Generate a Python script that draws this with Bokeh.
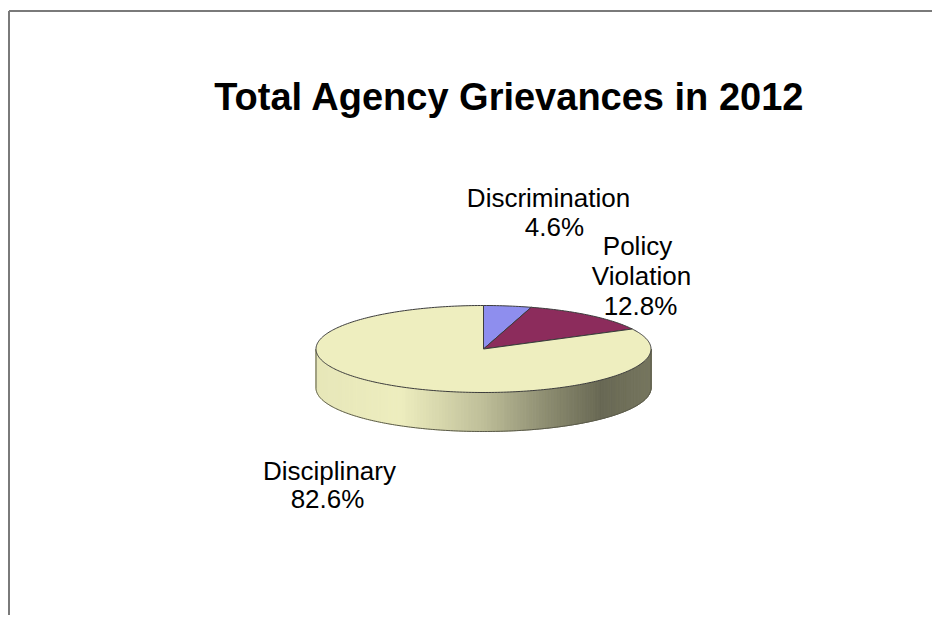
import numpy as np
from bokeh.plotting import figure
from bokeh.models import Range1d
from bokeh.core.properties import value
from bokeh.embed import file_html
from bokeh.resources import INLINE

# ---- data ----
categories = ["Discrimination", "Policy Violation", "Disciplinary"]
percentages = [4.6, 12.8, 82.6]
colors = ["#8E8EEE", "#8C2C5C", "#EEEEBF"]
title_text = "Total Agency Grievances in 2012"

# ---- layout (screen-like coordinates, y grows downward) ----
W, H = 932, 615
p = figure(width=W, height=H, output_backend="svg", toolbar_location=None,
           x_range=Range1d(0, W), y_range=Range1d(H, 0),
           min_border=0, outline_line_color=None)
p.axis.visible = False
p.grid.visible = False
p.background_fill_color = "white"
p.border_fill_color = "white"

# chart-area border (top and left edges visible in the reference)
p.segment(x0=[8.5, 8.5], y0=[10.5, 10.5], x1=[W, 8.5], y1=[10.5, H],
          line_color="#7a7a7a", line_width=2)

cx, cy, a, b, depth = 483.0, 348.5, 167.5, 43.5, 39.0
fr = np.array(percentages) / 100.0
ends = np.cumsum(fr) * 2 * np.pi
starts = ends - fr * 2 * np.pi

def ex(t):
    return cx + a * np.sin(t)

def ey(t):
    return cy - b * np.cos(t)

def hex2rgb(h):
    h = h.lstrip("#")
    return np.array([int(h[i:i + 2], 16) for i in (0, 2, 4)], dtype=float)

# side shading stops along horizontal position (0 = left edge, 1 = right edge)
stop_t = [0.0, 0.25, 0.5, 0.68, 0.85, 1.0]
stop_f = [0.97, 1.0, 0.80, 0.60, 0.44, 0.50]

# ---- side walls ----
side_xs, side_ys, side_cols = [], [], []
for s, e, c in zip(starts, ends, colors):
    lo, hi = max(s, np.pi / 2), min(e, 3 * np.pi / 2)
    if hi <= lo:
        continue
    base = hex2rgb(c)
    n = max(2, int((hi - lo) / (np.pi) * 160))
    th = np.linspace(lo, hi, n + 1)
    for i in range(n):
        t0, t1 = th[i], th[i + 1]
        xs = [ex(t0), ex(t1), ex(t1), ex(t0)]
        ys = [ey(t0), ey(t1), ey(t1) + depth, ey(t0) + depth]
        tm = (ex((t0 + t1) / 2) - (cx - a)) / (2 * a)
        f = np.interp(tm, stop_t, stop_f)
        rgb = np.clip(base * f, 0, 255).astype(int)
        side_xs.append(xs)
        side_ys.append(ys)
        side_cols.append("#%02x%02x%02x" % tuple(rgb))
p.patches(side_xs, side_ys, fill_color=side_cols, line_color=side_cols, line_width=1)

# outline of the side (bottom rim and vertical edges)
tb = np.linspace(np.pi / 2, 3 * np.pi / 2, 200)
p.line(ex(tb), ey(tb) + depth, line_color="#5a5a4a", line_width=1)
p.segment(x0=[ex(np.pi / 2), ex(3 * np.pi / 2)], y0=[ey(np.pi / 2), ey(3 * np.pi / 2)],
          x1=[ex(np.pi / 2), ex(3 * np.pi / 2)], y1=[ey(np.pi / 2) + depth, ey(3 * np.pi / 2) + depth],
          line_color="#5a5a4a", line_width=1)

# ---- top faces ----
top_xs, top_ys = [], []
for s, e in zip(starts, ends):
    th = np.linspace(s, e, max(3, int((e - s) / (2 * np.pi) * 360)))
    top_xs.append([cx] + list(ex(th)) + [cx])
    top_ys.append([cy] + list(ey(th)) + [cy])
p.patches(top_xs, top_ys, fill_color=colors, line_color="#3c3c3c", line_width=1)

# ---- labels ----
font = value("Liberation Sans")
lt = [categories[0], f"{percentages[0]}%",
      "Policy", "Violation", f"{percentages[1]}%",
      categories[2], f"{percentages[2]}%"]
lx = [548, 554, 637, 641, 640, 329, 327]
ly = [197, 226, 245, 275, 305, 470, 498]
p.text(x=lx, y=ly, text=lt, text_font=font, text_font_size="26px",
       text_color="#000000", text_align="center", text_baseline="alphabetic")

p.text(x=[509], y=[96], text=[title_text], text_font=font, text_font_size="38px",
       text_font_style="bold", text_color="#000000", text_align="center",
       text_baseline="alphabetic")

open("out.html", "w").write(file_html(p, INLINE))
